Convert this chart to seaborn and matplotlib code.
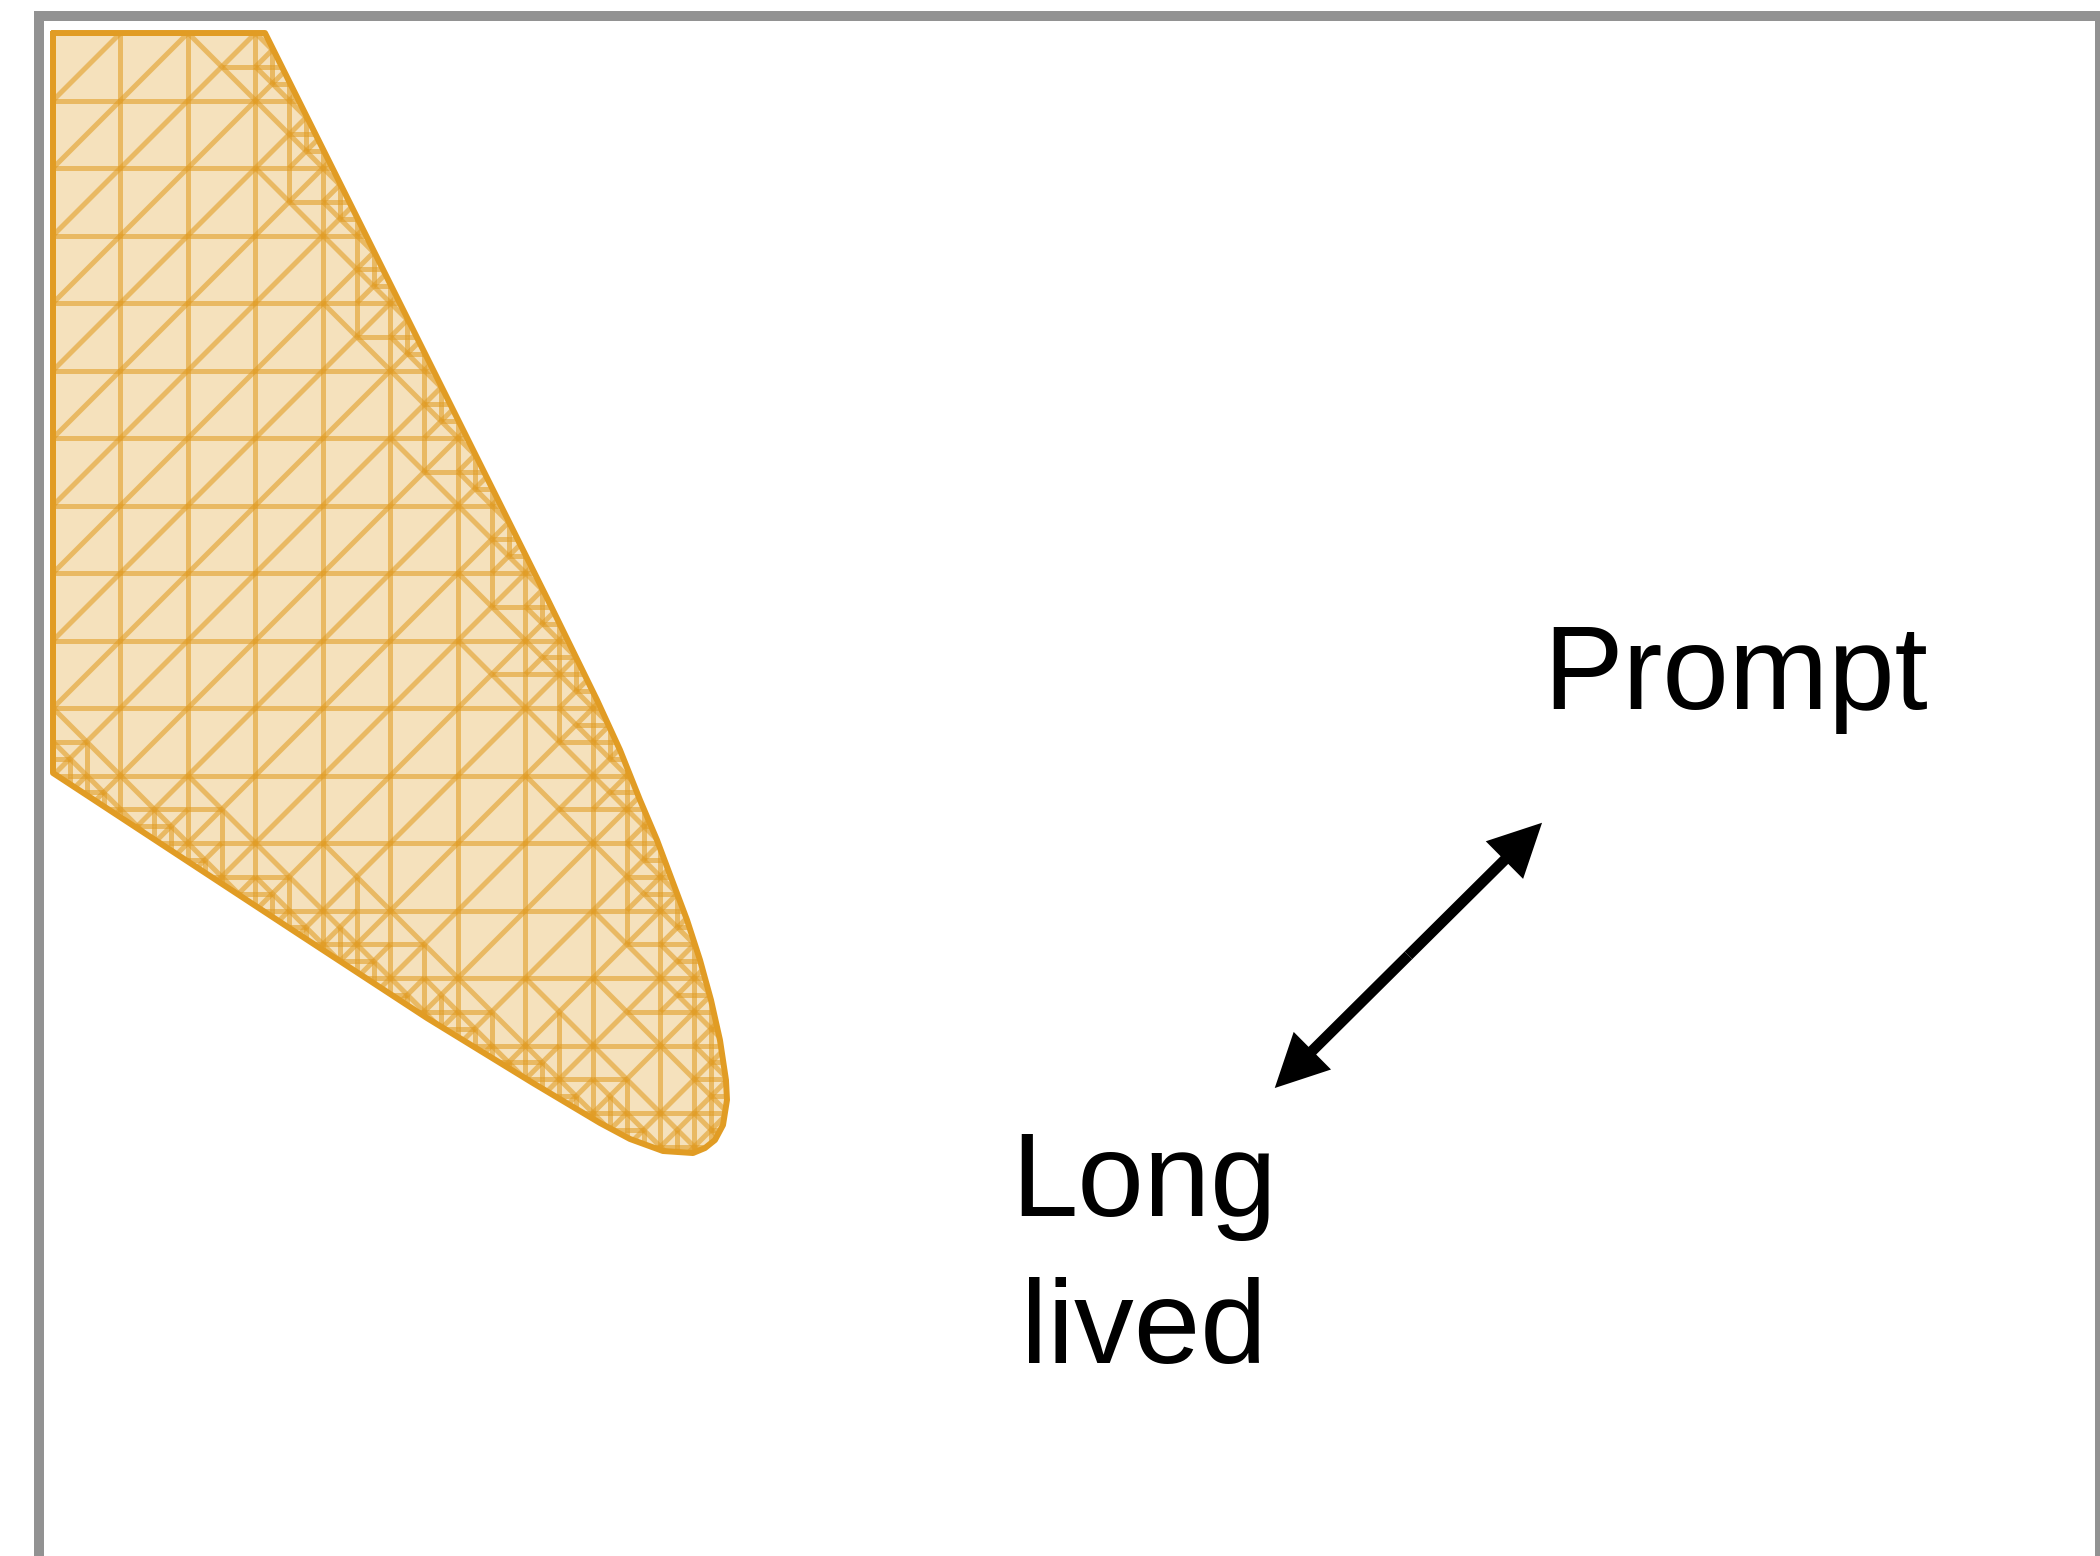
import numpy as np
import pandas as pd
import matplotlib
matplotlib.use("Agg")
import matplotlib.pyplot as plt
import seaborn as sns
from collections import defaultdict
from matplotlib.path import Path
from matplotlib.patches import Polygon
from matplotlib.collections import LineCollection

# Allowed region, traced clockwise from the top-left corner of the plot range
region_x = [0.0, 3.141, 7.333, 8.059, 8.400, 8.696, 8.948, 9.170, 9.393, 9.585,
            9.748, 9.881, 9.970, 9.985, 9.926, 9.807, 9.659, 9.481, 9.037, 8.548,
            8.104, 7.111, 5.541, 3.659, 0.0]
region_y = [22.0, 22.0, 13.600, 12.119, 11.378, 10.637, 10.044, 9.452, 8.859, 8.267,
            7.674, 7.081, 6.489, 6.193, 5.822, 5.600, 5.481, 5.407, 5.437, 5.615,
            5.852, 6.444, 7.407, 8.637, 11.037]

# Plot range and sampling grid
x_range = (0.0, 30.0)
y_top = 22.0
grid_cols = 13
grid_rows = (3, 22)
max_level = 4

labels = {"prompt": "Prompt", "long": "Long\nlived"}
prompt_pos = (24.93, 11.985)
long_pos = (16.16, 2.296)
arrow_tips = [(22.06, 10.30), (18.10, 6.37)]

ORANGE = (0.880722, 0.611041, 0.142051)
FRAME = "#929292"

sns.set_theme(style="white")
plt.rcParams["font.family"] = ["Liberation Sans", "DejaVu Sans"]

fig = plt.figure(figsize=(21, 15.56), dpi=100)
ax = fig.add_axes([39 / 2100, -5 / 1556, 2061 / 2100, 1545 / 1556])
ax.set_xlim(-0.2074, 30.326)
ax.set_ylim(-0.637, 22.252)
ax.set_xticks([])
ax.set_yticks([])
for sp in ax.spines.values():
    sp.set_visible(True)
    sp.set_color(FRAME)
    sp.set_linewidth(7.2)

# ---- adaptive triangulation (newest-vertex bisection) ----
region_pts = np.column_stack([region_x, region_y])
region_path = Path(np.vstack([region_pts, region_pts[:1]]), closed=True)

S = 64
tris = {}
edge_tris = defaultdict(set)
counter = [0]


def add_tri(v0, v1, v2, lev):
    tid = counter[0]
    counter[0] += 1
    tris[tid] = (v0, v1, v2, lev)
    for a, b in ((v0, v1), (v1, v2), (v2, v0)):
        edge_tris[frozenset((a, b))].add(tid)


def remove_tri(tid):
    v0, v1, v2, lev = tris.pop(tid)
    for a, b in ((v0, v1), (v1, v2), (v2, v0)):
        key = frozenset((a, b))
        edge_tris[key].discard(tid)
        if not edge_tris[key]:
            del edge_tris[key]
    return v0, v1, v2, lev


def split(tid, m):
    v0, v1, v2, lev = remove_tri(tid)
    add_tri(m, v0, v1, lev + 1)
    add_tri(m, v2, v0, lev + 1)


def bisect(tid):
    if tid not in tris:
        return
    v0, v1, v2, lev = tris[tid]
    e = frozenset((v1, v2))
    nb = [t for t in edge_tris.get(e, ()) if t != tid]
    if nb:
        n0, n1, n2, _ = tris[nb[0]]
        if frozenset((n1, n2)) != e:
            bisect(nb[0])
            if tid not in tris:
                return
            nb = [t for t in edge_tris.get(e, ()) if t != tid]
    m = ((v1[0] + v2[0]) // 2, (v1[1] + v2[1]) // 2)
    split(tid, m)
    for n in nb:
        if n in tris:
            split(n, m)


for i in range(grid_cols):
    for j in range(grid_rows[0], grid_rows[1]):
        bl, br = (i * S, j * S), ((i + 1) * S, j * S)
        tr, tl = ((i + 1) * S, (j + 1) * S), (i * S, (j + 1) * S)
        add_tri(br, bl, tr, 0)
        add_tri(tl, tr, bl, 0)


def inside(p):
    q = p.copy()
    q[:, 0] = np.maximum(q[:, 0], x_range[0] + 1e-3)
    q[:, 1] = np.minimum(q[:, 1], y_top - 1e-3)
    return region_path.contains_points(q)


changed = True
while changed:
    changed = False
    for tid in list(tris):
        if tid not in tris:
            continue
        v0, v1, v2, lev = tris[tid]
        if lev >= max_level:
            continue
        P = np.array([v0, v1, v2], float) / S
        samples = np.vstack([P, P.mean(axis=0)])
        ins = inside(samples)
        if ins.any() and not ins.all():
            bisect(tid)
            changed = True

segments = [np.array(list(e), float) / S for e in edge_tris.keys()]

# ---- drawing ----
fill = Polygon(region_pts, closed=True, facecolor=ORANGE, alpha=0.3,
               edgecolor="none", zorder=1)
ax.add_patch(fill)

mesh = LineCollection(segments, colors=[ORANGE], linewidths=3.6, alpha=0.58,
                      zorder=2)
ax.add_collection(mesh)
mesh.set_clip_path(fill)

outline = pd.DataFrame({"x": region_x + region_x[:1], "y": region_y + region_y[:1]})
sns.lineplot(data=outline, x="x", y="y", sort=False, estimator=None,
             color=ORANGE, linewidth=4.3, ax=ax, zorder=3, legend=False)
ax.set_xlabel("")
ax.set_ylabel("")

# double-headed arrow between the two labels
mx = (arrow_tips[0][0] + arrow_tips[1][0]) / 2
my = (arrow_tips[0][1] + arrow_tips[1][1]) / 2
for tx, ty in arrow_tips:
    ax.arrow(mx, my, tx - mx, ty - my, width=0.16, head_width=0.785,
             head_length=0.785, length_includes_head=True, color="black",
             linewidth=0, zorder=4)

ax.text(prompt_pos[0], prompt_pos[1], labels["prompt"], fontsize=86,
        ha="center", va="baseline", color="black")
ax.text(long_pos[0], long_pos[1], labels["long"], fontsize=86, ha="center",
        va="baseline", multialignment="center", linespacing=1.42, color="black")

fig.savefig("out.png", dpi=100)
